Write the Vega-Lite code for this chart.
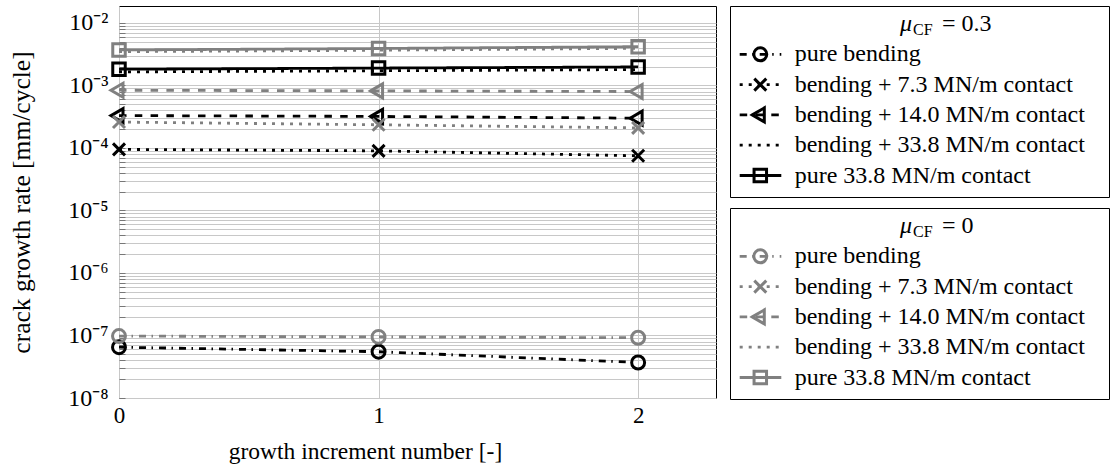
{
  "$schema": "https://vega.github.io/schema/vega-lite/v6.json",
  "padding": {"left": 8, "top": 5, "right": 5, "bottom": 5},
  "config": {
    "font": "Liberation Serif",
    "view": {"stroke": "#000000", "strokeWidth": 1},
    "axis": {"labelColor": "#000000", "titleColor": "#000000", "titleFontWeight": "normal", "labelFont": "Liberation Serif", "titleFont": "Liberation Serif"},
    "text": {"font": "Liberation Serif"}
  },
  "datasets": {
    "rates": [
      {"mu": "0.3", "kind": "pure bending", "inc": 0, "rate": 6.5e-8},
      {"mu": "0.3", "kind": "pure bending", "inc": 1, "rate": 5.5e-8},
      {"mu": "0.3", "kind": "pure bending", "inc": 2, "rate": 3.7e-8},
      {"mu": "0.3", "kind": "bending + 7.3 MN/m contact", "inc": 0, "rate": 9.5e-5},
      {"mu": "0.3", "kind": "bending + 7.3 MN/m contact", "inc": 1, "rate": 9.0e-5},
      {"mu": "0.3", "kind": "bending + 7.3 MN/m contact", "inc": 2, "rate": 7.5e-5},
      {"mu": "0.3", "kind": "bending + 14.0 MN/m contact", "inc": 0, "rate": 3.3e-4},
      {"mu": "0.3", "kind": "bending + 14.0 MN/m contact", "inc": 1, "rate": 3.2e-4},
      {"mu": "0.3", "kind": "bending + 14.0 MN/m contact", "inc": 2, "rate": 3.0e-4},
      {"mu": "0.3", "kind": "bending + 33.8 MN/m contact", "inc": 0, "rate": 1.65e-3},
      {"mu": "0.3", "kind": "bending + 33.8 MN/m contact", "inc": 1, "rate": 1.72e-3},
      {"mu": "0.3", "kind": "bending + 33.8 MN/m contact", "inc": 2, "rate": 1.8e-3},
      {"mu": "0.3", "kind": "pure 33.8 MN/m contact", "inc": 0, "rate": 1.82e-3},
      {"mu": "0.3", "kind": "pure 33.8 MN/m contact", "inc": 1, "rate": 1.9e-3},
      {"mu": "0.3", "kind": "pure 33.8 MN/m contact", "inc": 2, "rate": 1.98e-3},
      {"mu": "0", "kind": "pure bending", "inc": 0, "rate": 9.8e-8},
      {"mu": "0", "kind": "pure bending", "inc": 1, "rate": 9.5e-8},
      {"mu": "0", "kind": "pure bending", "inc": 2, "rate": 9.2e-8},
      {"mu": "0", "kind": "bending + 7.3 MN/m contact", "inc": 0, "rate": 2.6e-4},
      {"mu": "0", "kind": "bending + 7.3 MN/m contact", "inc": 1, "rate": 2.35e-4},
      {"mu": "0", "kind": "bending + 7.3 MN/m contact", "inc": 2, "rate": 2.1e-4},
      {"mu": "0", "kind": "bending + 14.0 MN/m contact", "inc": 0, "rate": 8.4e-4},
      {"mu": "0", "kind": "bending + 14.0 MN/m contact", "inc": 1, "rate": 8.2e-4},
      {"mu": "0", "kind": "bending + 14.0 MN/m contact", "inc": 2, "rate": 8.0e-4},
      {"mu": "0", "kind": "bending + 33.8 MN/m contact", "inc": 0, "rate": 3.48e-3},
      {"mu": "0", "kind": "bending + 33.8 MN/m contact", "inc": 1, "rate": 3.67e-3},
      {"mu": "0", "kind": "bending + 33.8 MN/m contact", "inc": 2, "rate": 3.93e-3},
      {"mu": "0", "kind": "pure 33.8 MN/m contact", "inc": 0, "rate": 3.7e-3},
      {"mu": "0", "kind": "pure 33.8 MN/m contact", "inc": 1, "rate": 3.91e-3},
      {"mu": "0", "kind": "pure 33.8 MN/m contact", "inc": 2, "rate": 4.18e-3}
    ]
  },
  "spacing": 12,
  "hconcat": [
    {
      "width": 597,
      "height": 392,
      "data": {"name": "rates"},
      "encoding": {
        "x": {
          "field": "inc", "type": "quantitative",
          "scale": {"domain": [0, 2.3], "nice": false, "zero": false},
          "axis": {
            "values": [0, 1, 2], "format": "d", "title": "growth increment number [-]",
            "titleFontSize": 23.5, "labelFontSize": 23, "labelPadding": 6, "titlePadding": 12,
            "titleX": 246,
            "ticks": false, "domain": false, "gridColor": "#c8c8c8", "labelFlush": false
          }
        },
        "y": {
          "field": "rate", "type": "quantitative",
          "scale": {"type": "log", "domain": [1e-8, 0.0187], "nice": false},
          "axis": {
            "values": [1e-8, 2e-8, 3e-8, 4e-8, 5e-8, 6e-8, 7e-8, 8e-8, 9e-8,
                       1e-7, 2e-7, 3e-7, 4e-7, 5e-7, 6e-7, 7e-7, 8e-7, 9e-7,
                       1e-6, 2e-6, 3e-6, 4e-6, 5e-6, 6e-6, 7e-6, 8e-6, 9e-6,
                       1e-5, 2e-5, 3e-5, 4e-5, 5e-5, 6e-5, 7e-5, 8e-5, 9e-5,
                       1e-4, 2e-4, 3e-4, 4e-4, 5e-4, 6e-4, 7e-4, 8e-4, 9e-4,
                       1e-3, 2e-3, 3e-3, 4e-3, 5e-3, 6e-3, 7e-3, 8e-3, 9e-3, 1e-2],
            "labelExpr": "abs(log(datum.value)/LN10 - round(log(datum.value)/LN10)) < 0.001 ? '10⁻' + ['⁰','¹','²','³','⁴','⁵','⁶','⁷','⁸','⁹'][-round(log(datum.value)/LN10)] : ''",
            "labelOverlap": false, "labelFontSize": 24, "labelPadding": 17, "labelFlush": false,
            "ticks": true, "tickSize": -6, "tickColor": "#777777", "tickWidth": 1,
            "domain": false, "gridColor": "#c8c8c8",
            "title": "crack growth rate [mm/cycle]", "titleFontSize": 25.5,
            "titleX": -98, "titleY": 196, "titleBaseline": "middle"
          }
        },
        "color": {
          "field": "mu", "type": "nominal",
          "scale": {"domain": ["0.3", "0"], "range": ["#000000", "#808080"]},
          "legend": null
        }
      },
      "layer": [
        {
          "mark": {"type": "line", "strokeWidth": 2.8, "strokeCap": "butt"},
          "encoding": {
            "strokeDash": {
              "field": "kind", "type": "nominal",
              "scale": {
                "domain": ["pure bending", "bending + 7.3 MN/m contact", "bending + 14.0 MN/m contact", "bending + 33.8 MN/m contact", "pure 33.8 MN/m contact"],
                "range": [[7, 5.5, 1.5, 6], [3, 6], [7.5, 8.3], [3, 6], [1, 0]]
              },
              "legend": null
            }
          }
        },
        {
          "transform": [{"filter": "indexof(datum.kind, 'bending + 33.8') < 0"}],
          "mark": {"type": "point", "filled": false, "strokeWidth": 3, "opacity": 1, "size": 256},
          "encoding": {
            "shape": {
              "field": "kind", "type": "nominal",
              "scale": {
                "domain": ["pure bending", "bending + 7.3 MN/m contact", "bending + 14.0 MN/m contact", "bending + 33.8 MN/m contact", "pure 33.8 MN/m contact"],
                "range": ["M0.81,0A0.81,0.81 0 1,1 -0.81,0A0.81,0.81 0 1,1 0.81,0Z", "M-0.75,-0.75L0.75,0.75M-0.75,0.75L0.75,-0.75", "M-1,0L0.5,-0.87L0.5,0.87Z", "M0,0", "M-0.78,-0.78L0.78,-0.78L0.78,0.78L-0.78,0.78Z"]
              },
              "legend": null
            }
          }
        }
      ]
    },
    {
      "spacing": 9,
      "vconcat": [
        {
          "width": 379,
          "height": 191,
          "layer": [
            {
              "data": {"name": "rates"},
              "transform": [{"filter": "datum.mu == '0.3' && datum.inc == 0"}],
              "mark": {"type": "rule", "strokeWidth": 2.8, "strokeCap": "butt"},
              "encoding": {
                "x": {"datum": 9.7, "type": "quantitative", "scale": {"domain": [0, 379], "nice": false, "zero": false}, "axis": null},
                "x2": {"datum": 51.3},
                "y": {"field": "kind", "type": "ordinal", "scale": {"type": "point", "domain": ["title", "pure bending", "bending + 7.3 MN/m contact", "bending + 14.0 MN/m contact", "bending + 33.8 MN/m contact", "pure 33.8 MN/m contact"], "range": [18, 169.5], "padding": 0}, "axis": null},
                "color": {"field": "mu", "type": "nominal", "scale": {"domain": ["0.3", "0"], "range": ["#000000", "#808080"]}, "legend": null},
                "strokeDash": {
                  "field": "kind", "type": "nominal",
                  "scale": {
                    "domain": ["pure bending", "bending + 7.3 MN/m contact", "bending + 14.0 MN/m contact", "bending + 33.8 MN/m contact", "pure 33.8 MN/m contact"],
                    "range": [[7, 5.5, 1.5, 6], [3, 6], [7.5, 8.3], [3, 6], [1, 0]]
                  },
                  "legend": null
                }
              }
            },
            {
              "data": {"name": "rates"},
              "transform": [{"filter": "datum.mu == '0.3' && datum.inc == 0 && indexof(datum.kind, 'bending + 33.8') < 0"}],
              "mark": {"type": "point", "filled": false, "strokeWidth": 3, "opacity": 1, "size": 256},
              "encoding": {
                "x": {"datum": 30.3, "type": "quantitative"},
                "y": {"field": "kind", "type": "ordinal"},
                "color": {"field": "mu", "type": "nominal", "scale": {"domain": ["0.3", "0"], "range": ["#000000", "#808080"]}, "legend": null},
                "shape": {
                  "field": "kind", "type": "nominal",
                  "scale": {
                    "domain": ["pure bending", "bending + 7.3 MN/m contact", "bending + 14.0 MN/m contact", "bending + 33.8 MN/m contact", "pure 33.8 MN/m contact"],
                    "range": ["M0.81,0A0.81,0.81 0 1,1 -0.81,0A0.81,0.81 0 1,1 0.81,0Z", "M-0.75,-0.75L0.75,0.75M-0.75,0.75L0.75,-0.75", "M-1,0L0.5,-0.87L0.5,0.87Z", "M0,0", "M-0.78,-0.78L0.78,-0.78L0.78,0.78L-0.78,0.78Z"]
                  },
                  "legend": null
                }
              }
            },
            {
              "data": {"name": "rates"},
              "transform": [{"filter": "datum.mu == '0.3' && datum.inc == 0"}],
              "mark": {"type": "text", "align": "left", "baseline": "middle", "fontSize": 24, "color": "#000000"},
              "encoding": {
                "x": {"datum": 64.7, "type": "quantitative"},
                "y": {"field": "kind", "type": "ordinal"},
                "text": {"field": "kind"}
              }
            },
            {
              "data": {"values": [{}]},
              "mark": {"type": "text", "align": "left", "baseline": "middle", "fontSize": 24, "fontStyle": "italic", "color": "#000000"},
              "encoding": {"x": {"datum": 170, "type": "quantitative"}, "y": {"datum": "title", "type": "ordinal"}, "text": {"value": "μ"}}
            },
            {
              "data": {"values": [{}]},
              "mark": {"type": "text", "align": "left", "baseline": "middle", "fontSize": 16, "dy": 6, "color": "#000000"},
              "encoding": {"x": {"datum": 183, "type": "quantitative"}, "y": {"datum": "title", "type": "ordinal"}, "text": {"value": "CF"}}
            },
            {
              "data": {"values": [{}]},
              "mark": {"type": "text", "align": "left", "baseline": "middle", "fontSize": 24, "color": "#000000"},
              "encoding": {"x": {"datum": 212, "type": "quantitative"}, "y": {"datum": "title", "type": "ordinal"}, "text": {"value": "= 0.3"}}
            }
          ]
        },
        {
          "width": 379,
          "height": 191,
          "layer": [
            {
              "data": {"name": "rates"},
              "transform": [{"filter": "datum.mu == '0' && datum.inc == 0"}],
              "mark": {"type": "rule", "strokeWidth": 2.8, "strokeCap": "butt"},
              "encoding": {
                "x": {"datum": 9.7, "type": "quantitative", "scale": {"domain": [0, 379], "nice": false, "zero": false}, "axis": null},
                "x2": {"datum": 51.3},
                "y": {"field": "kind", "type": "ordinal", "scale": {"type": "point", "domain": ["title", "pure bending", "bending + 7.3 MN/m contact", "bending + 14.0 MN/m contact", "bending + 33.8 MN/m contact", "pure 33.8 MN/m contact"], "range": [18, 169.5], "padding": 0}, "axis": null},
                "color": {"field": "mu", "type": "nominal", "scale": {"domain": ["0.3", "0"], "range": ["#000000", "#808080"]}, "legend": null},
                "strokeDash": {
                  "field": "kind", "type": "nominal",
                  "scale": {
                    "domain": ["pure bending", "bending + 7.3 MN/m contact", "bending + 14.0 MN/m contact", "bending + 33.8 MN/m contact", "pure 33.8 MN/m contact"],
                    "range": [[7, 5.5, 1.5, 6], [3, 6], [7.5, 8.3], [3, 6], [1, 0]]
                  },
                  "legend": null
                }
              }
            },
            {
              "data": {"name": "rates"},
              "transform": [{"filter": "datum.mu == '0' && datum.inc == 0 && indexof(datum.kind, 'bending + 33.8') < 0"}],
              "mark": {"type": "point", "filled": false, "strokeWidth": 3, "opacity": 1, "size": 256},
              "encoding": {
                "x": {"datum": 30.3, "type": "quantitative"},
                "y": {"field": "kind", "type": "ordinal"},
                "color": {"field": "mu", "type": "nominal", "scale": {"domain": ["0.3", "0"], "range": ["#000000", "#808080"]}, "legend": null},
                "shape": {
                  "field": "kind", "type": "nominal",
                  "scale": {
                    "domain": ["pure bending", "bending + 7.3 MN/m contact", "bending + 14.0 MN/m contact", "bending + 33.8 MN/m contact", "pure 33.8 MN/m contact"],
                    "range": ["M0.81,0A0.81,0.81 0 1,1 -0.81,0A0.81,0.81 0 1,1 0.81,0Z", "M-0.75,-0.75L0.75,0.75M-0.75,0.75L0.75,-0.75", "M-1,0L0.5,-0.87L0.5,0.87Z", "M0,0", "M-0.78,-0.78L0.78,-0.78L0.78,0.78L-0.78,0.78Z"]
                  },
                  "legend": null
                }
              }
            },
            {
              "data": {"name": "rates"},
              "transform": [{"filter": "datum.mu == '0' && datum.inc == 0"}],
              "mark": {"type": "text", "align": "left", "baseline": "middle", "fontSize": 24, "color": "#000000"},
              "encoding": {
                "x": {"datum": 64.7, "type": "quantitative"},
                "y": {"field": "kind", "type": "ordinal"},
                "text": {"field": "kind"}
              }
            },
            {
              "data": {"values": [{}]},
              "mark": {"type": "text", "align": "left", "baseline": "middle", "fontSize": 24, "fontStyle": "italic", "color": "#000000"},
              "encoding": {"x": {"datum": 170, "type": "quantitative"}, "y": {"datum": "title", "type": "ordinal"}, "text": {"value": "μ"}}
            },
            {
              "data": {"values": [{}]},
              "mark": {"type": "text", "align": "left", "baseline": "middle", "fontSize": 16, "dy": 6, "color": "#000000"},
              "encoding": {"x": {"datum": 183, "type": "quantitative"}, "y": {"datum": "title", "type": "ordinal"}, "text": {"value": "CF"}}
            },
            {
              "data": {"values": [{}]},
              "mark": {"type": "text", "align": "left", "baseline": "middle", "fontSize": 24, "color": "#000000"},
              "encoding": {"x": {"datum": 212, "type": "quantitative"}, "y": {"datum": "title", "type": "ordinal"}, "text": {"value": "= 0"}}
            }
          ]
        }
      ]
    }
  ]
}
